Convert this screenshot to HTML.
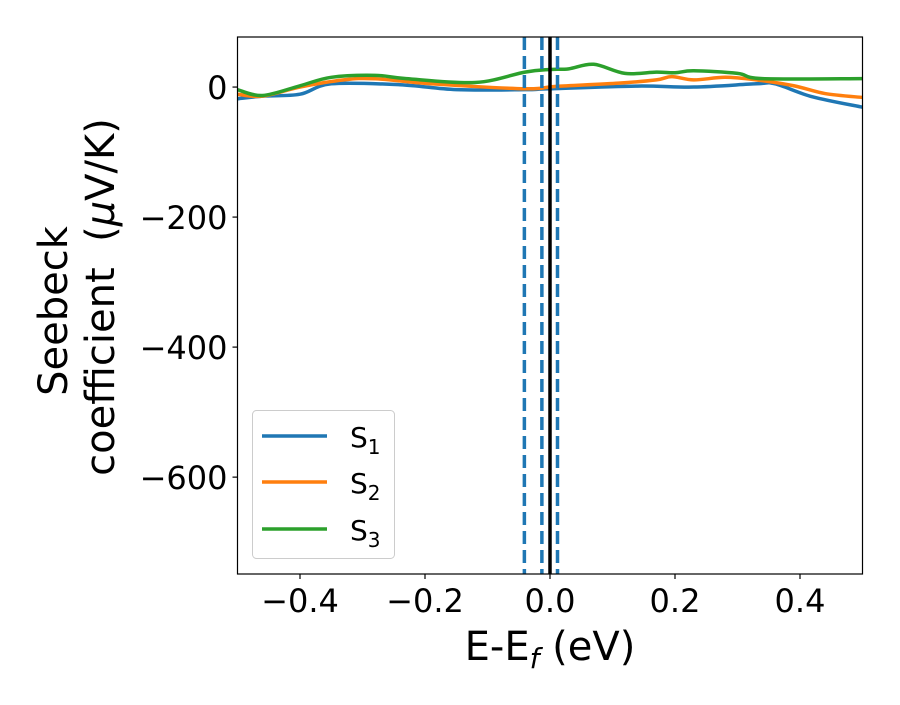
<!DOCTYPE html>
<html><head><meta charset="utf-8"><style>
body{margin:0;background:#fff}
svg{font-family:"DejaVu Sans","Liberation Sans",sans-serif}
</style></head><body>
<svg id="chart" width="900" height="700" xmlns="http://www.w3.org/2000/svg"></svg>
<script>
const xTicks=[-0.4,-0.2,0.0,0.2,0.4];
const xTickLabels=["\u22120.4","\u22120.2","0.0","0.2","0.4"];
const yTicks=[0,-200,-400,-600];
const yTickLabels=["0","\u2212200","\u2212400","\u2212600"];
const s1X=[-0.5,-0.46,-0.40,-0.35,-0.24,-0.15,-0.04,0.0,0.14,0.23,0.33,0.36,0.42,0.5];
const s1Y=[-18,-14,-11,5,3.6,-4,-4,-2.6,1.5,0,5,5,-15,-31];
const s2X=[-0.5,-0.46,-0.40,-0.33,-0.28,-0.19,-0.04,0.01,0.11,0.17,0.195,0.23,0.28,0.33,0.39,0.44,0.5];
const s2Y=[-11,-14,0,11,12.8,5,-2.6,1,6,11,16,11,15,11,2,-10,-16];
const s3X=[-0.5,-0.46,-0.40,-0.35,-0.28,-0.23,-0.12,-0.04,0.0,0.03,0.07,0.12,0.17,0.2,0.23,0.3,0.34,0.5];
const s3Y=[-4,-13,2,15,18,13,7,23,27,28,35,21,23,22,25,21,13,13];
const vDashed=[-0.041,-0.013,0.012];
const vSolid=[0.0];
const L=237.5,R=862.5,T=37,B=574,xmin=-0.5,xmax=0.5,ymin=-749,ymax=77;
const sx=v=>L+(v-xmin)/(xmax-xmin)*(R-L);
const sy=v=>T+(ymax-v)/(ymax-ymin)*(B-T);
const svg=document.getElementById('chart');const NS='http://www.w3.org/2000/svg';
function mk(tag,attrs,parent){const e=document.createElementNS(NS,tag);for(const k in attrs)e.setAttribute(k,attrs[k]);(parent||svg).appendChild(e);return e;}
const defs=mk('defs',{});const cp=mk('clipPath',{id:'clip'},defs);mk('rect',{x:L,y:T,width:R-L,height:B-T},cp);
function path(xs,ys){const p=xs.map((x,i)=>[sx(x),sy(ys[i])]);let d='M'+p[0][0]+','+p[0][1];
for(let i=0;i<p.length-1;i++){const p0=p[Math.max(i-1,0)],p1=p[i],p2=p[i+1],p3=p[Math.min(i+2,p.length-1)];
d+=' C'+(p1[0]+(p2[0]-p0[0])/6)+','+(p1[1]+(p2[1]-p0[1])/6)+' '+(p2[0]-(p3[0]-p1[0])/6)+','+(p2[1]-(p3[1]-p1[1])/6)+' '+p2[0]+','+p2[1];}return d;}
const g=mk('g',{'clip-path':'url(#clip)'});
const series=[[s1X,s1Y,'#1f77b4','series-s1'],[s2X,s2Y,'#ff7f0e','series-s2'],[s3X,s3Y,'#2ca02c','series-s3']];
series.forEach(s=>{const e=mk('path',{d:path(s[0],s[1]),fill:'none',stroke:s[2],'stroke-width':3.5},g);

});
vDashed.forEach(v=>{const e=mk('line',{x1:sx(v),x2:sx(v),y1:T,y2:B,stroke:'#1f77b4','stroke-width':3.5,'stroke-dasharray':'13,6'},g);

});
vSolid.forEach(v=>{const e=mk('line',{x1:sx(v),x2:sx(v),y1:T,y2:B,stroke:'#000','stroke-width':3.5},g);

});
const frame=mk('rect',{x:L,y:T,width:R-L,height:B-T,fill:'none',stroke:'#000','stroke-width':1.2});


xTicks.forEach((v,i)=>{mk('line',{x1:sx(v),x2:sx(v),y1:B,y2:B+5,stroke:'#000','stroke-width':1.2});
const t=mk('text',{x:sx(v),y:B+38,'text-anchor':'middle','font-size':32});t.textContent=xTickLabels[i];

});
yTicks.forEach((v,i)=>{mk('line',{x1:L-5,x2:L,y1:sy(v),y2:sy(v),stroke:'#000','stroke-width':1.2});
const t=mk('text',{x:L-10,y:sy(v)+12,'text-anchor':'end','font-size':32});t.textContent=yTickLabels[i];

});
</script>
<svg style="position:absolute;left:0;top:0" width="900" height="700" xmlns="http://www.w3.org/2000/svg" font-family="DejaVu Sans, Liberation Sans, sans-serif">
<text x="550" y="660" text-anchor="middle" font-size="40">E-E<tspan font-size="28" dy="8" font-style="italic">f</tspan><tspan dy="-8"> (eV)</tspan></text>
<g transform="rotate(-90)">
<text x="-311" y="67" text-anchor="middle" font-size="40">Seebeck</text>
<text x="-297" y="114" text-anchor="middle" font-size="40">coefficient&#160;&#160;(<tspan font-style="italic">μ</tspan>V/K)</text>
</g>
<g>
<rect x="252.5" y="410.5" width="142" height="148" rx="4" fill="#fff" fill-opacity="0.8" stroke="#ccc"/>
<g><line x1="262" y1="436" x2="327" y2="436" stroke="#1f77b4" stroke-width="3.5"/><text x="350" y="447" font-size="28">S<tspan font-size="20" dy="7">1</tspan></text></g>
<g><line x1="262" y1="482" x2="327" y2="482" stroke="#ff7f0e" stroke-width="3.5"/><text x="350" y="493" font-size="28">S<tspan font-size="20" dy="7">2</tspan></text></g>
<g><line x1="262" y1="529" x2="327" y2="529" stroke="#2ca02c" stroke-width="3.5"/><text x="350" y="540" font-size="28">S<tspan font-size="20" dy="7">3</tspan></text></g>
</g>
</svg>
</body></html>
